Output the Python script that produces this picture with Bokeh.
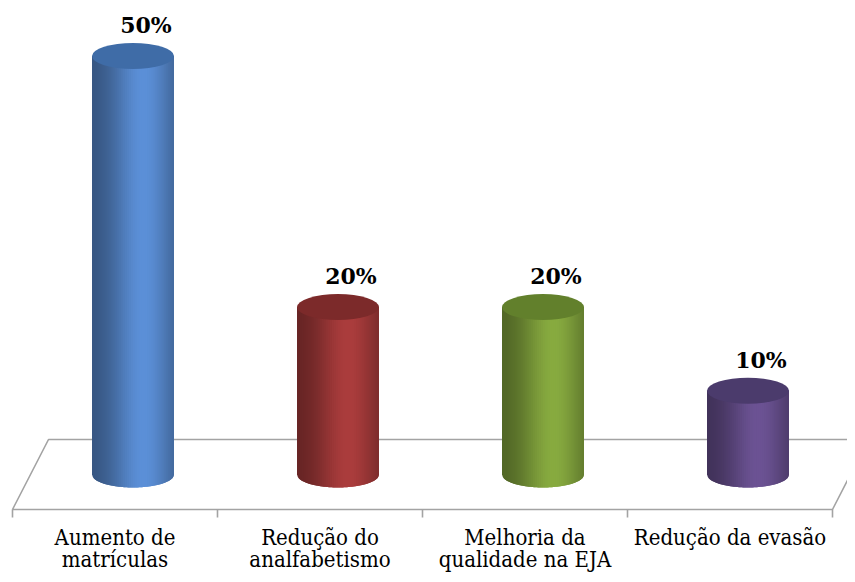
import numpy as np
from bokeh.plotting import figure
from bokeh.models import Range1d, ColumnDataSource
from bokeh.core.properties import value
from bokeh.embed import file_html
from bokeh.resources import INLINE

# ---- data ----
categories = ["Aumento de\nmatrículas", "Redução do\nanalfabetismo",
              "Melhoria da\nqualidade na EJA", "Redução da evasão"]
values = [50, 20, 20, 10]
value_labels = ["50%", "20%", "20%", "10%"]
body_colors = ["#5c90d8", "#ab3d3d", "#88ab40", "#6c5394"]
top_colors = ["#3f6ca7", "#7c2a2a", "#62802c", "#4b3b6c"]

# ---- geometry / style (pixel based) ----
W, H = 847, 574
PX_U = 205.0      # pixels per category
PX_V = 8.37       # pixels per percent
X0_PX = 12        # pixel of the first category boundary
Y0_PX = 474       # pixel of the 0 level
R_X = 41 / PX_U   # cylinder radius (x)
R_Y = 13 / PX_V   # cylinder ellipse half height
DX = 18 / PX_U    # floor half depth (x)
DY = 35 / PX_V    # floor half depth (y)
FONT_A = value("DejaVu Serif")
FONT_B = value("DejaVu Serif Condensed")
GRAY = "#a3a3a3"

n = len(categories)
p = figure(width=W, height=H,
           x_range=Range1d(-X0_PX / PX_U, (W - X0_PX) / PX_U),
           y_range=Range1d((Y0_PX - H) / PX_V, Y0_PX / PX_V),
           output_backend="svg", toolbar_location=None,
           x_axis_location=None, y_axis_location=None,
           min_border=0)
p.xgrid.visible = False
p.ygrid.visible = False
p.outline_line_color = None
p.background_fill_color = "white"
p.border_fill_color = "white"

# floor
p.patch(x=[0, n, n + 2 * DX, 2 * DX], y=[-DY, -DY, DY, DY],
        fill_color="white", line_color=GRAY, line_width=1.6)
# ticks along front edge
tx = list(range(n + 1))
p.segment(x0=tx, y0=[-DY] * (n + 1), x1=tx, y1=[-DY - 8 / PX_V] * (n + 1),
          line_color=GRAY, line_width=1.6)


def shade(hexcol, f):
    r, g, b = (int(hexcol[i:i + 2], 16) for i in (1, 3, 5))
    return "#%02x%02x%02x" % tuple(int(max(0, min(255, c * f))) for c in (r, g, b))


# cylinders (shaded strips, each overlapping the next to hide seams)
xs, ys, cs = [], [], []
NS = 40
edges = np.linspace(-1, 1, NS + 1)
for i, (v, col) in enumerate(zip(values, body_colors)):
    cx = i + 0.5 + DX
    for k in range(NS):
        t0 = edges[k]
        t1 = min(1.0, edges[k + 1] + 2.0 / NS)
        tm = 0.5 * (edges[k] + edges[k + 1])
        f = 0.58 + 0.42 * np.exp(-((tm - 0.25) / 0.75) ** 2)
        sub = np.linspace(t0, t1, 6)
        bx = list(cx + R_X * sub[::-1])
        by = list(-R_Y * np.sqrt(np.clip(1 - sub[::-1] ** 2, 0, 1)))
        xs.append([cx + R_X * t0, cx + R_X * t1] + bx)
        ys.append([v, v] + by)
        cs.append(shade(col, f))
src = ColumnDataSource(dict(xs=xs, ys=ys, c=cs))
p.patches("xs", "ys", source=src, fill_color="c", line_color=None)

cxs = [i + 0.5 + DX for i in range(n)]
p.ellipse(x=cxs, y=values, width=2 * R_X, height=2 * R_Y,
          fill_color=top_colors, line_color=None)

# value labels
p.text(x=[c + 13 / PX_U for c in cxs], y=[v + 31 / PX_V for v in values],
       text=value_labels, text_font=FONT_A, text_font_size="22px",
       text_font_style="bold", text_align="center", text_baseline="middle",
       text_color="black")

# category labels
line1 = [c.split("\n")[0] for c in categories]
line2 = [c.split("\n")[1] if "\n" in c else "" for c in categories]
cat_x = [i + 0.5 for i in range(n)]
p.text(x=cat_x, y=[(Y0_PX - 537) / PX_V] * n, text=line1, text_font=FONT_B,
       text_font_size="22px", text_align="center", text_baseline="middle",
       text_color="black")
p.text(x=cat_x, y=[(Y0_PX - 559) / PX_V] * n, text=line2, text_font=FONT_B,
       text_font_size="22px", text_align="center", text_baseline="middle",
       text_color="black")

open("out.html", "w").write(file_html(p, INLINE))
